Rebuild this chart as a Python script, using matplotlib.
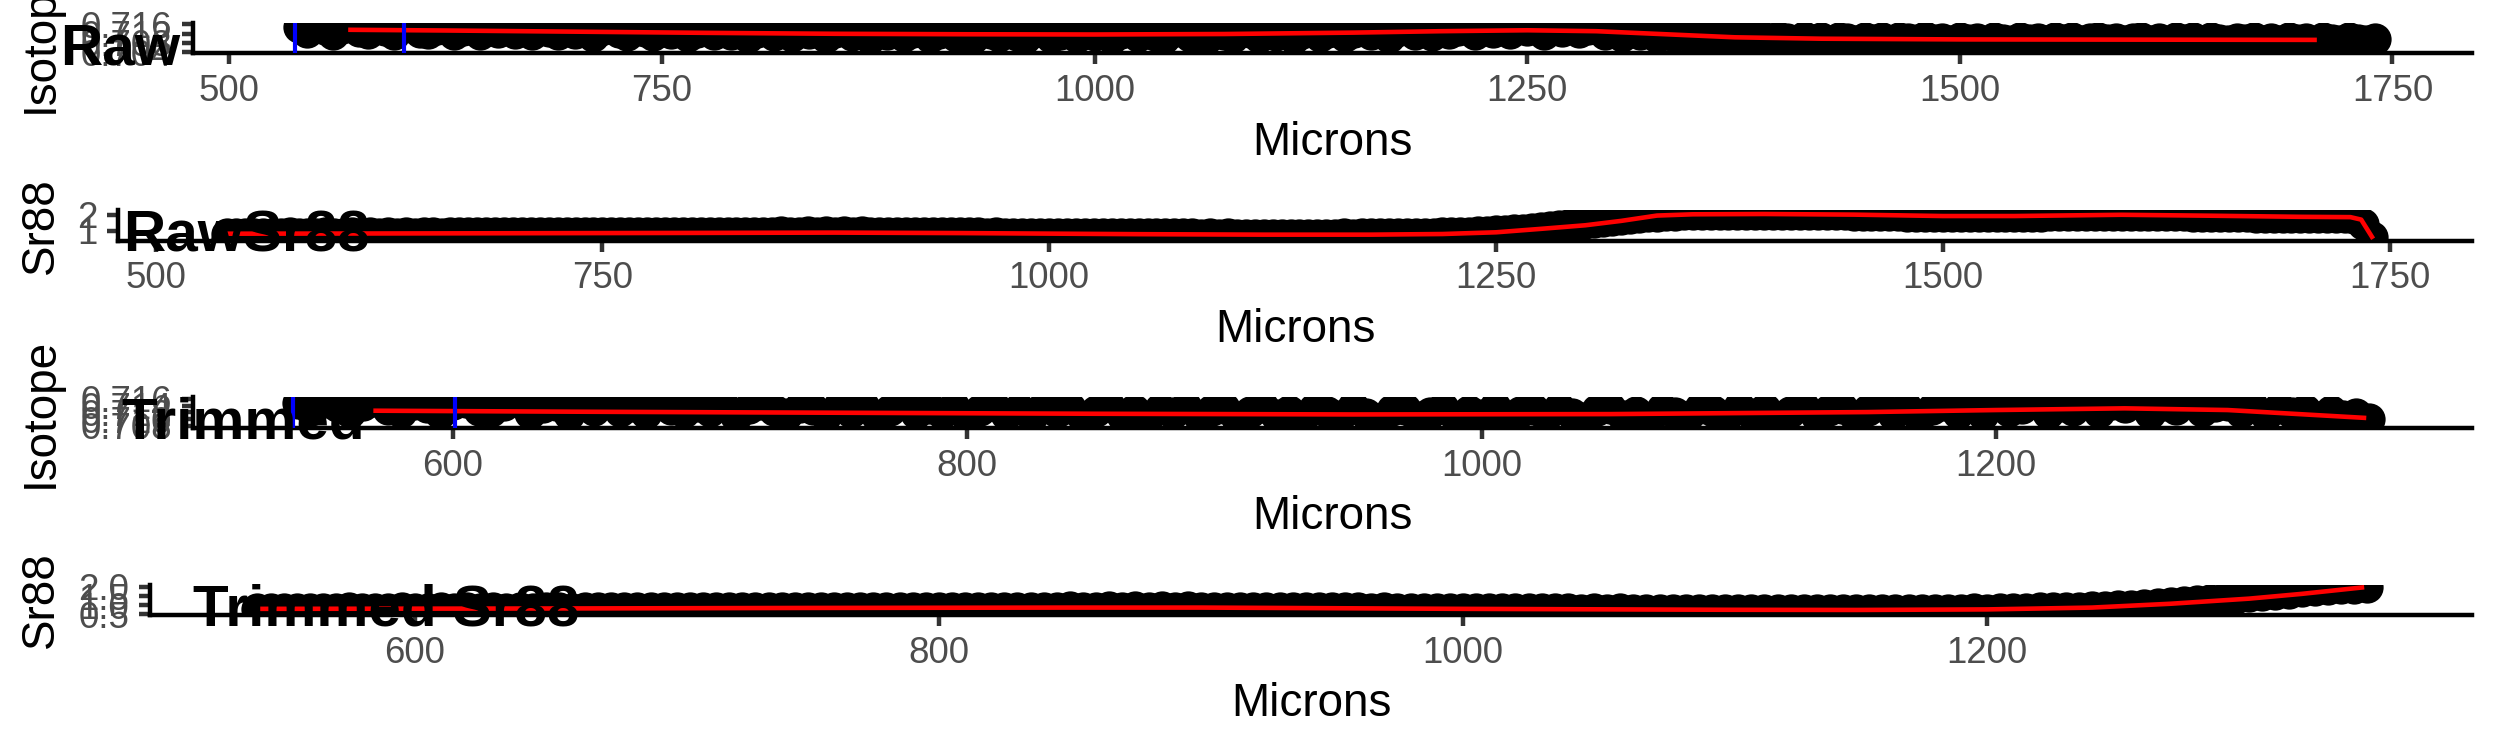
import numpy as np
import matplotlib
matplotlib.use('Agg')
import matplotlib.pyplot as plt

# ----------- DATA ------------
# laser track position (microns), one reading every 5 microns
microns = np.arange(540, 1745, 5)

# raw 87Sr/86Sr ratio readings
isotope_raw = [
    0.7148, 0.7126, 0.7152, 0.7138, 0.7120, 0.7143, 0.7155, 0.7130, 0.7122, 0.7145,
    0.7136, 0.7117, 0.7146, 0.7150, 0.7128, 0.7123, 0.7141, 0.7153, 0.7119, 0.7135,
    0.7141, 0.7116, 0.7144, 0.7127, 0.7147, 0.7124, 0.7138, 0.7118, 0.7150, 0.7131,
    0.7120, 0.7139, 0.7124, 0.7142, 0.7110, 0.7133, 0.7146, 0.7126, 0.7115, 0.7137,
    0.7130, 0.7112, 0.7140, 0.7121, 0.7135, 0.7108, 0.7128, 0.7144, 0.7117, 0.7132,
    0.7119, 0.7136, 0.7105, 0.7127, 0.7141, 0.7114, 0.7130, 0.7110, 0.7138, 0.7121,
    0.7133, 0.7106, 0.7125, 0.7139, 0.7112, 0.7128, 0.7103, 0.7131, 0.7117, 0.7136,
    0.7108, 0.7126, 0.7134, 0.7104, 0.7121, 0.7137, 0.7111, 0.7124, 0.7101, 0.7130,
    0.7122, 0.7109, 0.7135, 0.7114, 0.7102, 0.7127, 0.7131, 0.7106, 0.7119, 0.7133,
    0.7105, 0.7124, 0.7112, 0.7136, 0.7100, 0.7121, 0.7129, 0.7108, 0.7132, 0.7115,
    0.7103, 0.7127, 0.7134, 0.7110, 0.7122, 0.7099, 0.7130, 0.7118, 0.7106, 0.7133,
    0.7125, 0.7107, 0.7136, 0.7115, 0.7129, 0.7102, 0.7121, 0.7138, 0.7111, 0.7127,
    0.7133, 0.7109, 0.7128, 0.7141, 0.7116, 0.7135, 0.7107, 0.7130, 0.7143, 0.7119,
    0.7138, 0.7114, 0.7146, 0.7124, 0.7133, 0.7149, 0.7118, 0.7140, 0.7127, 0.7151,
    0.7122, 0.7145, 0.7136, 0.7153, 0.7119, 0.7141, 0.7130, 0.7148, 0.7125, 0.7139,
    0.7143, 0.7120, 0.7135, 0.7111, 0.7132, 0.7117, 0.7126, 0.7105, 0.7123, 0.7109,
    0.7116, 0.7101, 0.7112, 0.7098, 0.7108, 0.7115, 0.7095, 0.7106, 0.7099, 0.7110,
    0.7092, 0.7104, 0.7097, 0.7089, 0.7105, 0.7094, 0.7100, 0.7088, 0.7103, 0.7096,
    0.7090, 0.7102, 0.7093, 0.7099, 0.7087, 0.7101, 0.7095, 0.7091, 0.7104, 0.7092,
    0.7098, 0.7088, 0.7101, 0.7093, 0.7097, 0.7086, 0.7100, 0.7094, 0.7090, 0.7103,
    0.7091, 0.7097, 0.7087, 0.7102, 0.7094, 0.7099, 0.7089, 0.7096, 0.7101, 0.7092,
    0.7098, 0.7088, 0.7095, 0.7103, 0.7090, 0.7097, 0.7086, 0.7100, 0.7093, 0.7099,
    0.7089, 0.7101, 0.7094, 0.7087, 0.7098, 0.7092, 0.7102, 0.7090, 0.7096, 0.7088,
    0.7099, 0.7091, 0.7097, 0.7086, 0.7100, 0.7093, 0.7089, 0.7101, 0.7094, 0.7090,
    0.7096,
]

# raw Sr88 signal (V)
sr88_raw = [
    0.79, 0.80, 0.78, 0.80, 0.81, 0.79, 0.80, 0.82, 0.80, 0.81,
    0.80, 0.82, 0.81, 0.80, 0.82, 0.81, 0.83, 0.81, 0.82, 0.80,
    0.82, 0.81, 0.83, 0.82, 0.81, 0.83, 0.82, 0.84, 0.82, 0.83,
    0.82, 0.84, 0.83, 0.82, 0.84, 0.83, 0.85, 0.83, 0.84, 0.83,
    0.85, 0.84, 0.83, 0.85, 0.84, 0.86, 0.84, 0.85, 0.84, 0.86,
    0.85, 0.84, 0.86, 0.85, 0.87, 0.85, 0.86, 0.85, 0.87, 0.86,
    0.87, 0.86, 0.88, 0.86, 0.87, 0.88, 0.86, 0.88, 0.87, 0.88,
    0.87, 0.88, 0.86, 0.87, 0.86, 0.85, 0.86, 0.84, 0.85, 0.84,
    0.83, 0.84, 0.82, 0.83, 0.82, 0.81, 0.82, 0.80, 0.81, 0.80,
    0.81, 0.79, 0.80, 0.79, 0.78, 0.79, 0.78, 0.77, 0.78, 0.77,
    0.78, 0.76, 0.77, 0.76, 0.77, 0.75, 0.76, 0.75, 0.76, 0.74,
    0.75, 0.74, 0.75, 0.74, 0.73, 0.74, 0.73, 0.74, 0.73, 0.74,
    0.73, 0.74, 0.73, 0.74, 0.74, 0.75, 0.74, 0.75, 0.76, 0.75,
    0.76, 0.77, 0.76, 0.78, 0.79, 0.80, 0.82, 0.83, 0.85, 0.87,
    0.89, 0.92, 0.95, 0.98, 1.02, 1.06, 1.11, 1.16, 1.22, 1.28,
    1.34, 1.41, 1.48, 1.55, 1.62, 1.69, 1.76, 1.82, 1.87, 1.92,
    1.96, 1.99, 2.02, 2.03, 2.05, 2.04, 2.06, 2.05, 2.07, 2.06,
    2.07, 2.06, 2.08, 2.07, 2.06, 2.07, 2.05, 2.06, 2.04, 2.05,
    2.03, 2.04, 2.02, 2.01, 2.00, 1.99, 1.98, 1.97, 1.96, 1.95,
    1.94, 1.95, 1.93, 1.92, 1.93, 1.91, 1.92, 1.90, 1.91, 1.92,
    1.93, 1.94, 1.95, 1.96, 1.97, 1.98, 1.99, 2.00, 2.01, 2.00,
    2.01, 2.02, 2.01, 2.00, 2.01, 1.99, 2.00, 1.98, 1.99, 1.97,
    1.96, 1.95, 1.94, 1.93, 1.92, 1.91, 1.90, 1.89, 1.89, 1.88,
    1.88, 1.87, 1.88, 1.87, 1.88, 1.87, 1.88, 1.86, 1.80, 1.45,
    0.60,
]

TRIM_END = 1345  # trimmed series keep microns <= this

# smoothed fits (red)
smooth_raw_x = [570, 625, 700, 775, 850, 925, 1000, 1075, 1150, 1200, 1250, 1290, 1330, 1370, 1420, 1500, 1600, 1705]
smooth_raw_y = [0.7136, 0.7133, 0.7128, 0.7123, 0.7119, 0.7117, 0.7116, 0.7118, 0.7124, 0.7130,
                0.7134, 0.7130, 0.7117, 0.7104, 0.7098, 0.7095, 0.7094, 0.7093]

smooth_sr_x = [540, 600, 700, 800, 880, 950, 1050, 1120, 1180, 1220, 1250, 1275, 1300, 1320,
               1340, 1360, 1400, 1450, 1500, 1540, 1600, 1650, 1700, 1728, 1734, 1740]
smooth_sr_y = [0.80, 0.81, 0.83, 0.85, 0.87, 0.84, 0.77, 0.74, 0.74, 0.78, 0.89, 1.11, 1.34, 1.62,
               1.96, 2.04, 2.06, 2.02, 1.93, 1.93, 2.01, 1.95, 1.88, 1.86, 1.70, 0.60]

smooth_trim_x = [570, 650, 750, 850, 950, 1050, 1150, 1200, 1250, 1290, 1320, 1343]
smooth_trim_y = [0.7125, 0.7122, 0.7119, 0.7116, 0.7114, 0.7115, 0.7121, 0.7127, 0.7132, 0.7127, 0.7114, 0.7104]

smooth_trim_sr_x = [540, 650, 750, 850, 900, 1000, 1100, 1150, 1200, 1240, 1270, 1300, 1320, 1343]
smooth_trim_sr_y = [0.80, 0.82, 0.85, 0.87, 0.87, 0.80, 0.75, 0.74, 0.77, 0.87, 1.08, 1.36, 1.62, 1.97]

# selected window (blue)
window_lines = [538, 601]

panel_labels = ['Raw', 'RawSr88', 'Trimmed', 'Trimmed Sr88']
y_titles = ['Isotope', 'Sr88', 'Isotope', 'Sr88']

xticks_raw = [500, 750, 1000, 1250, 1500, 1750]
xticks_trim = [600, 800, 1000, 1200]
yticks_iso_raw = [0.704, 0.708, 0.712, 0.716]
yticks_sr_raw = [1, 2]
yticks_iso_trim = [0.708, 0.710, 0.712, 0.714, 0.716]
yticks_sr_trim = [0.5, 1.0, 1.5, 2.0]
# -----------------------------

W, H, DPI = 2495, 749, 300
plt.rcParams['font.family'] = ['Liberation Sans', 'DejaVu Sans']

microns = np.asarray(microns)
isotope_raw = np.asarray(isotope_raw)
sr88_raw = np.asarray(sr88_raw)
keep = microns <= TRIM_END

series = [
    (microns, isotope_raw, smooth_raw_x, smooth_raw_y, True, xticks_raw, (479, 1796),
     yticks_iso_raw, (0.7035, 0.7165), '{:.3f}'),
    (microns, sr88_raw, smooth_sr_x, smooth_sr_y, False, xticks_raw, (479, 1796),
     yticks_sr_raw, (0.35, 2.3), '{:g}'),
    (microns[keep], isotope_raw[keep], smooth_trim_x, smooth_trim_y, True, xticks_trim, (499, 1385),
     yticks_iso_trim, (0.7074, 0.7164), '{:.3f}'),
    (microns[keep], sr88_raw[keep], smooth_trim_sr_x, smooth_trim_sr_y, False, xticks_trim, (499, 1385),
     yticks_sr_trim, (0.45, 2.12), '{:.1f}'),
]

panel_left = [193, 118, 193, 150]   # pixels
panel_right = 2472
row_h = H / 4
top_in_row, bottom_in_row = 23, 53.5

fig = plt.figure(figsize=((W + 0.01) / DPI, (H + 0.01) / DPI), dpi=DPI)

label_texts = []
for i, (x, y, sx, sy, show_window, xt, xl, yt, yl, fmt) in enumerate(series):
    row_top = i * row_h
    left = panel_left[i]
    ax = fig.add_axes([left / W, 1 - (row_top + bottom_in_row) / H,
                       (panel_right - left) / W, (bottom_in_row - top_in_row) / H])

    ax.scatter(x, y, s=60, color='black', linewidths=0, zorder=2)
    ax.plot(sx, sy, color='red', lw=1.1, zorder=3)
    if show_window:
        for xv in window_lines:
            ax.axvline(xv, color='blue', lw=1.0, zorder=4)

    ax.set_xlim(*xl)
    ax.set_ylim(*yl)
    ax.set_xticks(xt)
    ax.set_xticklabels([str(v) for v in xt])
    ax.set_yticks(yt)
    ax.set_yticklabels([fmt.format(v) for v in yt])

    for s in ['top', 'right']:
        ax.spines[s].set_visible(False)
    for s in ['left', 'bottom']:
        ax.spines[s].set_linewidth(1.07)
        ax.spines[s].set_color('black')
    ax.tick_params(length=2.75, width=1.07, color='#333333', labelsize=8.8,
                   labelcolor='#4D4D4D', pad=2.2)
    ax.set_xlabel('Microns', fontsize=11, labelpad=2.75)

    fig.text(41 / W, 1 - (row_top + (top_in_row + bottom_in_row) / 2) / H, y_titles[i],
             rotation=90, ha='center', va='center', fontsize=11)

    t = fig.text(0, 1 - (row_top + 64) / H, panel_labels[i], fontsize=14,
                 fontweight='bold', ha='left', va='baseline', zorder=10)
    label_texts.append(t)

# cowplot style labels: left edge sits half a label width in from the edge
fig.canvas.draw()
for t in label_texts:
    w = t.get_window_extent().width
    t.set_x(0.5 * w / W)

fig.savefig('out.png', dpi=DPI)
